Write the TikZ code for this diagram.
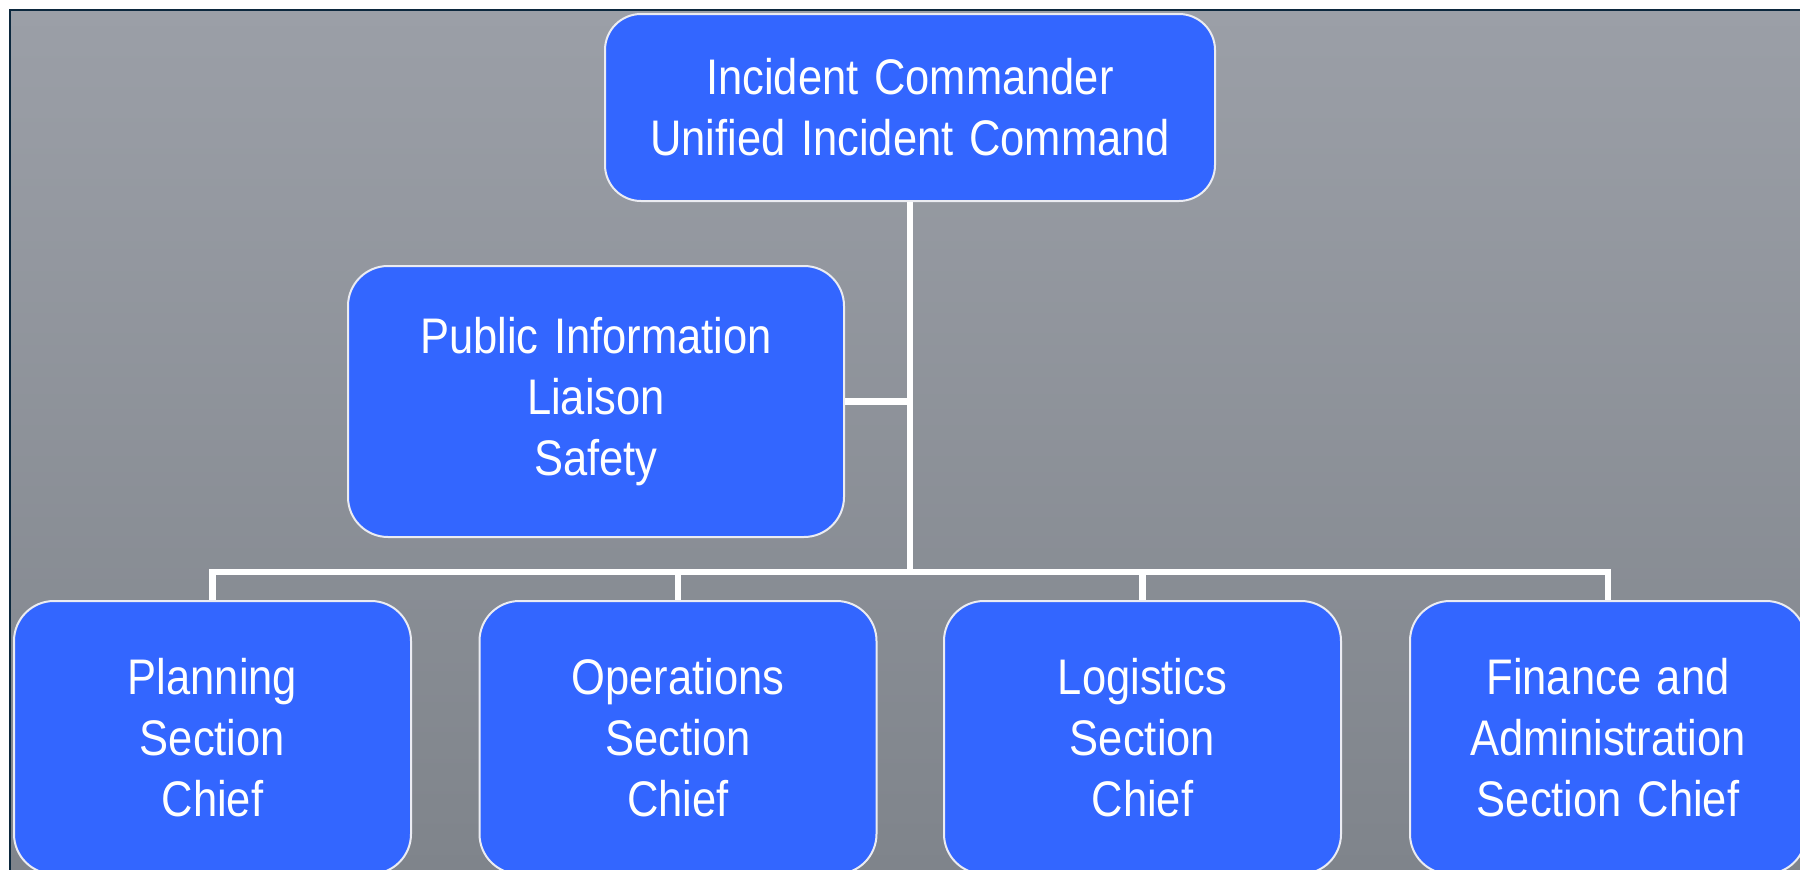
\documentclass[tikz,border=0pt]{standalone}
\usepackage{fontspec}
\setmainfont{Liberation Sans}[FakeStretch=0.87, WordSpace=1.3]
\definecolor{boxblue}{RGB}{51,102,255}
\definecolor{bgtop}{RGB}{155,159,167}
\definecolor{bgbot}{RGB}{127,132,139}
\definecolor{frameline}{RGB}{12,40,62}
\definecolor{edgewhite}{RGB}{235,236,242}
\begin{document}
\begin{tikzpicture}[x=1pt,y=-1pt,
  orgbox/.style={draw=edgewhite, line width=2pt, fill=boxblue, rounded corners=40pt,
    inner sep=0pt, text=white, align=center,
    font=\fontsize{50}{61}\selectfont},
  link/.style={draw=white, line width=6.5pt, line cap=butt}]
\useasboundingbox (0,0) rectangle (1800,870);
\clip (0,0) rectangle (1800,870);
\shade[top color=bgtop, bottom color=bgbot] (10,10) rectangle (1800,870);
\draw[frameline, line width=2pt] (10,870) -- (10,10) -- (1800,10);

\node[orgbox, rounded corners=36pt, minimum width=610pt, minimum height=187pt] (top) at (910,107.5)
  {Incident Commander\\Unified Incident Command};
\node[orgbox, minimum width=496pt, minimum height=271pt] (pio) at (596,401.5)
  {Public Information\\Liaison\\Safety};
\node[orgbox, minimum width=397pt, minimum height=273pt] (plan) at (212.5,737.5)
  {Planning\\Section\\Chief};
\node[orgbox, minimum width=397pt, minimum height=273pt] (ops) at (678,737.5)
  {Operations\\Section\\Chief};
\node[orgbox, minimum width=397pt, minimum height=273pt] (log) at (1142.5,737.5)
  {Logistics\\Section\\Chief};
\node[orgbox, minimum width=396pt, minimum height=273pt] (fin) at (1608,737.5)
  {Finance and\\Administration\\Section Chief};

\coordinate (bus) at (910,572);
\draw[link] (top.south) -- (bus);
\draw[link] (pio.east) -- (pio.east -| bus);
\draw[link] (plan.north) |- (fin.north |- bus) -- (fin.north);
\draw[link] (ops.north) -- (ops.north |- bus);
\draw[link] (log.north) -- (log.north |- bus);
\end{tikzpicture}
\end{document}
